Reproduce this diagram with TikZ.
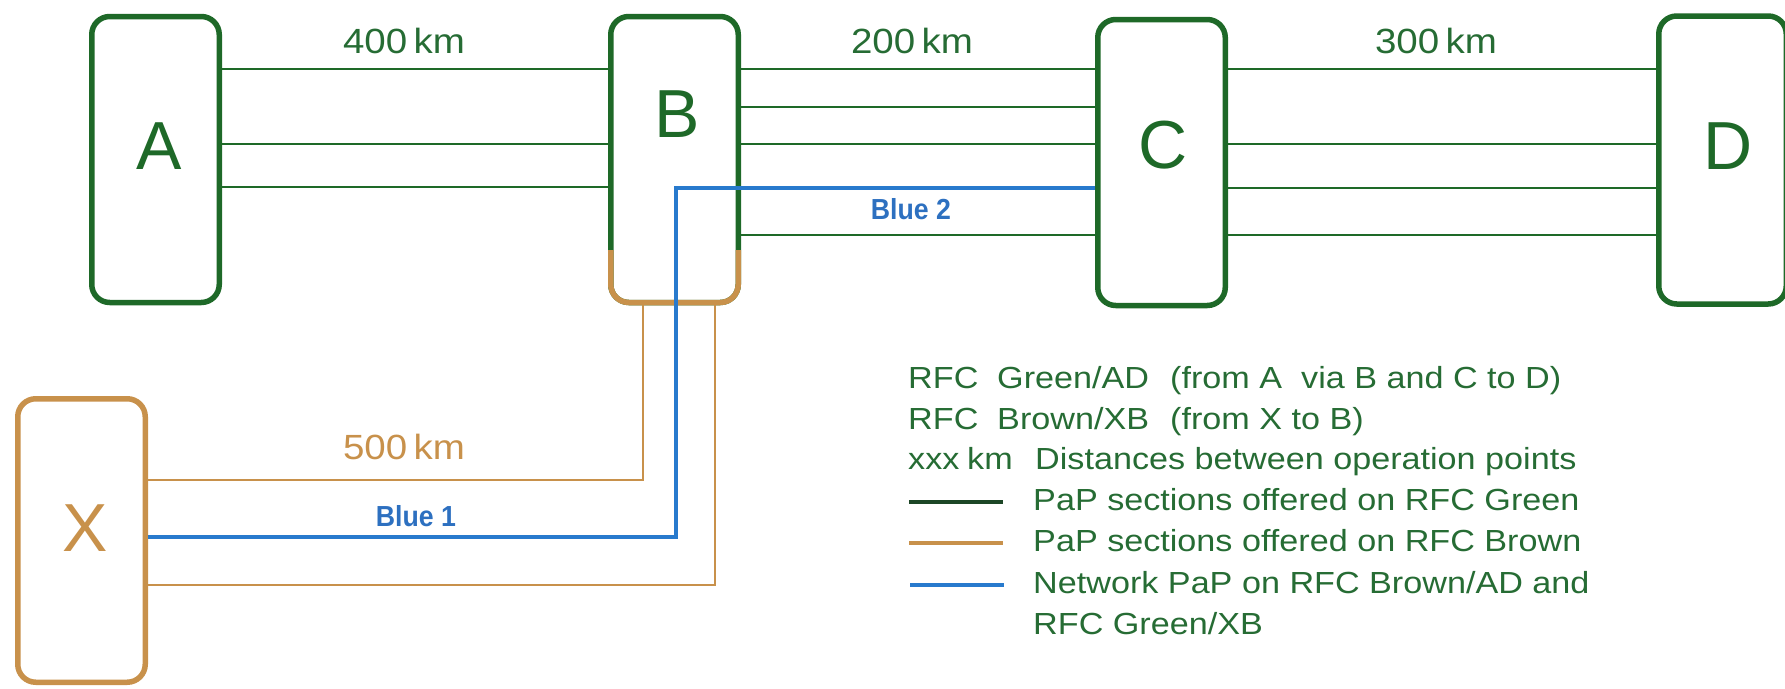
\documentclass[tikz,border=0pt]{standalone}
\usepackage{fontspec}
\setmainfont{Liberation Sans}
\definecolor{rgreen}{RGB}{30,105,40}
\definecolor{tgreen}{RGB}{38,108,52}
\definecolor{lgreen}{RGB}{28,70,38}
\definecolor{rbrown}{RGB}{200,145,75}
\definecolor{rblue}{RGB}{40,122,205}
\definecolor{tblue}{RGB}{45,112,192}
\begin{document}
\begin{tikzpicture}[x=1pt,y=-1pt,
  station/.style={draw=rgreen,line width=5.5pt,rounded corners=18pt,inner sep=0pt,outer sep=0pt,
    minimum width=127.5pt,minimum height=286pt,fill=none},
  bigletter/.style={inner sep=0pt,text=rgreen,font=\fontsize{68}{80}\selectfont},
  kmlabel/.style={inner sep=0pt,text=tgreen,font=\fontsize{35}{42}\selectfont,xscale=1.1},
  bluelabel/.style={inner sep=0pt,text=tblue,font=\bfseries\fontsize{29}{34}\selectfont,xscale=0.92},
  legtext/.style={inner sep=0pt,anchor=base west,text=tgreen,font=\fontsize{30.5}{36}\selectfont,xscale=1.12},
  gline/.style={draw=rgreen,line width=2.4pt},
  bline/.style={draw=rbrown,line width=2.2pt},
  blueline/.style={draw=rblue,line width=3.4pt},
]
\useasboundingbox (0,0) rectangle (1785,688);

% station boxes
\node[station] (A) at (155.5,159.5) {};
\node[station] (B) at (674.5,159.5) {};
\node[station] (C) at (1161.5,162.5) {};
\node[station,minimum height=288pt] (D) at (1722.5,160) {};
\node[station,draw=rbrown,minimum height=283.5pt] (X) at (81.5,540.5) {};

% brown lower part of B
\coordinate (Bl) at (B.west |- 0,250);
\coordinate (Br) at (B.east |- 0,250);
\draw[draw=rbrown,line width=5.5pt,rounded corners=18pt] (Bl) -- (B.south west) -- (B.south east) -- (Br);

% letters
\node[bigletter] (Atxt) at (159,146) {A};
\node[bigletter] (Btxt) at (677,114) {B};
\node[bigletter] (Ctxt) at (1163,145) {C};
\node[bigletter] (Dtxt) at (1728,146) {D};
\node[bigletter,text=rbrown] (Xtxt) at (85,528) {X};

% A - B
\draw[gline] (A.east |- 0,69) -- (B.west |- 0,69);
\draw[gline] (A.east |- 0,144) -- (B.west |- 0,144);
\draw[gline] (A.east |- 0,187) -- (B.west |- 0,187);
% B - C
\draw[gline] (B.east |- 0,69) -- (C.west |- 0,69);
\draw[gline] (B.east |- 0,107) -- (C.west |- 0,107);
\draw[gline] (B.east |- 0,144) -- (C.west |- 0,144);
\draw[gline] (B.east |- 0,235) -- (C.west |- 0,235);
% C - D
\draw[gline] (C.east |- 0,69) -- (D.west |- 0,69);
\draw[gline] (C.east |- 0,144) -- (D.west |- 0,144);
\draw[gline] (C.east |- 0,188) -- (D.west |- 0,188);
\draw[gline] (C.east |- 0,235) -- (D.west |- 0,235);
% X - B (brown)
\draw[bline] (B.south -| 643,0) -- (643,480) -- (X.east |- 0,480);
\draw[bline] (B.south -| 715,0) -- (715,585) -- (X.east |- 0,585);
% blue network PaP
\draw[blueline,shorten <=2.75pt,shorten >=2.75pt] (C.west |- 0,188) -- (676,188) -- (676,537) -- (X.east |- 0,537);

% distance labels
\node[kmlabel] (l400) at (404,41) {400\,km};
\node[kmlabel] (l200) at (912,41) {200\,km};
\node[kmlabel] (l300) at (1436,41) {300\,km};
\node[kmlabel,text=rbrown] (l500) at (404,447) {500\,km};
\node[bluelabel] (blue1) at (416,516) {Blue 1};
\node[bluelabel] (blue2) at (911,209) {Blue 2};

% legend
\node[legtext] (g1a) at (908,388) {RFC};
\node[legtext] (g1b) at (997,388) {Green/AD};
\node[legtext] (g1c) at (1170,388) {(from A\ \ via B and C to D)};
\node[legtext] (g2a) at (908,429) {RFC};
\node[legtext] (g2b) at (997,429) {Brown/XB};
\node[legtext] (g2c) at (1170,429) {(from X to B)};
\node[legtext] (g3a) at (908,469) {xxx};
\node[legtext] (g3b) at (967,469) {km};
\node[legtext] (g3c) at (1035,469) {Distances between operation points};
\coordinate (k1s) at (909,502); \coordinate (k1e) at (1003,502);
\coordinate (k2s) at (909,543); \coordinate (k2e) at (1003,543);
\coordinate (k3s) at (910,585); \coordinate (k3e) at (1004,585);
\draw[draw=lgreen,line width=4pt] (k1s) -- (k1e);
\draw[draw=rbrown,line width=4pt] (k2s) -- (k2e);
\draw[draw=rblue,line width=4pt] (k3s) -- (k3e);
\node[legtext] (g4) at (1033,510) {PaP sections offered on RFC Green};
\node[legtext] (g5) at (1033,551) {PaP sections offered on RFC Brown};
\node[legtext] (g6) at (1033,593) {Network PaP on RFC Brown/AD and};
\node[legtext] (g7) at (1033,634) {RFC Green/XB};
\end{tikzpicture}
\end{document}
